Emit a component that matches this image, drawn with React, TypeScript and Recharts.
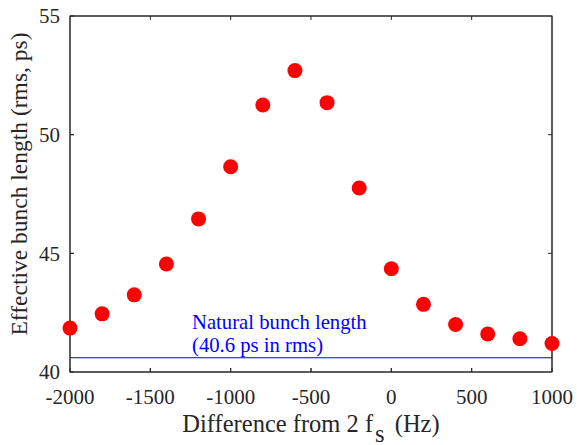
import React from "react";
import {
  ScatterChart,
  Scatter,
  XAxis,
  YAxis,
  ReferenceLine,
  ReferenceArea,
} from "recharts";

const freqDiff = [-2000, -1800, -1600, -1400, -1200, -1000, -800, -600, -400, -200, 0, 200, 400, 600, 800, 1000];
const bunchLength = [41.85, 42.45, 43.25, 44.55, 46.45, 48.65, 51.25, 52.7, 51.35, 47.75, 44.35, 42.85, 42.0, 41.6, 41.4, 41.2];
const xTicks = [-2000, -1500, -1000, -500, 0, 500, 1000];
const yTicks = [40, 45, 50, 55];
const xDomain = [-2000, 1000];
const yDomain = [40, 55];
const naturalLength = 40.6;
const annotationLines = ["Natural bunch length", "(40.6 ps in rms)"];

const data = freqDiff.map((f, i) => ({ x: f, y: bunchLength[i] }));

const FONT = "Liberation Serif";
const AXIS = "#262626";
const TICK_LEN = 4;

const Dot = (p: any) => <circle cx={p.cx} cy={p.cy} r={7.5} fill="#ff0000" />;

// inward ticks on the top and bottom edges, from a vertical reference line's span
const VTicks = (p: any) => {
  const top = Math.min(p.y1, p.y2);
  const bottom = Math.max(p.y1, p.y2);
  return (
    <g>
      <line x1={p.x1} x2={p.x1} y1={top} y2={top + TICK_LEN} stroke={AXIS} strokeWidth={1} />
      <line x1={p.x1} x2={p.x1} y1={bottom - TICK_LEN} y2={bottom} stroke={AXIS} strokeWidth={1} />
    </g>
  );
};
// inward ticks on the left and right edges, from a horizontal reference line's span
const HTicks = (p: any) => {
  const left = Math.min(p.x1, p.x2);
  const right = Math.max(p.x1, p.x2);
  return (
    <g>
      <line x1={left} x2={left + TICK_LEN} y1={p.y1} y2={p.y1} stroke={AXIS} strokeWidth={1} />
      <line x1={right - TICK_LEN} x2={right} y1={p.y1} y2={p.y1} stroke={AXIS} strokeWidth={1} />
    </g>
  );
};
// frame of the plot area
const Frame = (p: any) => (
  <rect x={p.x} y={p.y} width={p.width} height={p.height} fill="none" stroke={AXIS} strokeWidth={1} />
);

const lineStyle = { stroke: AXIS, strokeWidth: 1 };

export default function App() {
  return (
    <div style={{ position: "absolute", left: 0, top: 0, background: "#fff", fontFamily: FONT }}>
      <ScatterChart
        width={577}
        height={445}
        margin={{ top: 16, right: 25, bottom: 0, left: 0 }}
      >
        <XAxis
          dataKey="x"
          type="number"
          domain={xDomain}
          ticks={xTicks}
          height={73}
          axisLine={lineStyle}
          tickLine={lineStyle}
          tickSize={-4}
          tickMargin={21}
          tick={{ fill: AXIS, fontSize: 21, fontFamily: FONT }}
          label={{
            content: (props: any) => {
              const vb = props.viewBox;
              return (
                <text
                  x={vb.x + vb.width / 2}
                  y={vb.y + 60}
                  textAnchor="middle"
                  fontFamily={FONT}
                  fontSize={24.5}
                  fill={AXIS}
                >
                  Difference from 2 f
                  <tspan dx={2} dy={10}>s</tspan>
                  <tspan dx={4} dy={-10}> (Hz)</tspan>
                </text>
              );
            },
          }}
        />
        <YAxis
          dataKey="y"
          type="number"
          domain={yDomain}
          ticks={yTicks}
          width={70}
          axisLine={lineStyle}
          tickLine={lineStyle}
          tickSize={-4}
          tickMargin={14}
          tick={{ fill: AXIS, fontSize: 21, fontFamily: FONT }}
          label={{
            content: (props: any) => {
              const vb = props.viewBox;
              const cy = vb.y + vb.height / 2 - 10;
              return (
                <text
                  x={27}
                  y={cy}
                  transform={`rotate(-90, 27, ${cy})`}
                  textAnchor="middle"
                  fontFamily={FONT}
                  fontSize={23.5}
                  fill={AXIS}
                >
                  Effective bunch length (rms, ps)
                </text>
              );
            },
          }}
        />
        <ReferenceArea shape={Frame} />
        <ReferenceLine y={yDomain[1]} stroke={AXIS} strokeWidth={1} />
        <ReferenceLine x={xDomain[1]} stroke={AXIS} strokeWidth={1} />
        {xTicks.slice(1, -1).map((t) => (
          <ReferenceLine key={`tx${t}`} x={t} shape={VTicks} />
        ))}
        {yTicks.slice(1, -1).map((t) => (
          <ReferenceLine key={`ty${t}`} y={t} shape={HTicks} />
        ))}
        <ReferenceLine
          y={naturalLength}
          stroke="#0000ff"
          strokeWidth={1}
          label={{
            content: (props: any) => {
              const vb = props.viewBox;
              return (
                <text fontFamily={FONT} fontSize={20.7} fill="#0000ff">
                  <tspan x={vb.x + 122} y={vb.y - 29}>{annotationLines[0]}</tspan>
                  <tspan x={vb.x + 122} y={vb.y - 6}>{annotationLines[1]}</tspan>
                </text>
              );
            },
          }}
        />
        <Scatter data={data} shape={Dot} isAnimationActive={false} />
      </ScatterChart>
    </div>
  );
}
